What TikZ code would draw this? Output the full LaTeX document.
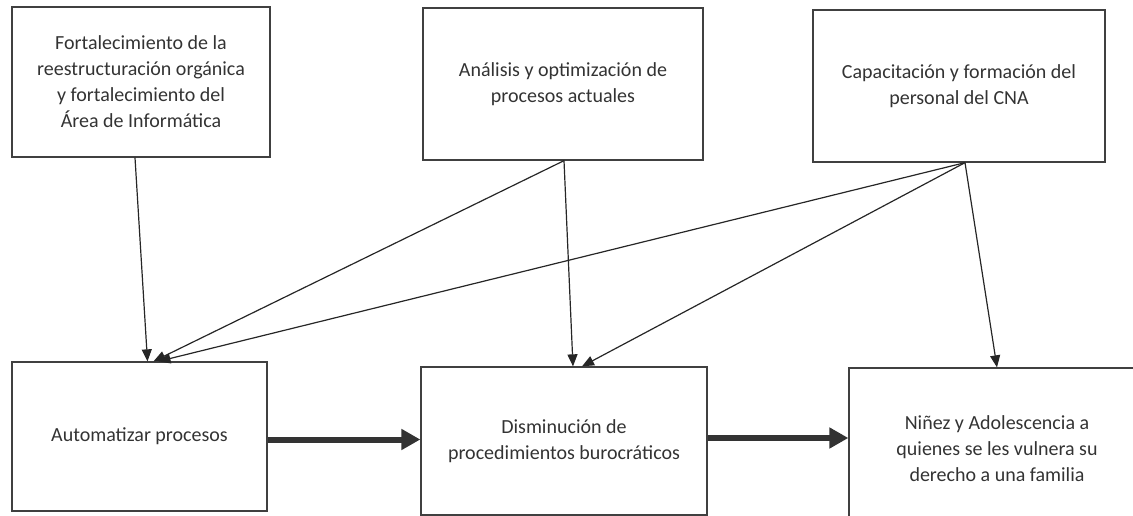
\documentclass[tikz,border=0pt]{standalone}
\usepackage{fontspec}
\setmainfont{Carlito}
\usetikzlibrary{arrows.meta}

\begin{document}
\begin{tikzpicture}[x=1pt, y=1pt
    , every node/.style={font=\fontsize{20}{26}\selectfont, text=black!80}
    , box/.style={draw=black!75, line width=1.3pt, align=center, inner sep=0pt}
    , thinarr/.style={draw=black!85, line width=1.2pt, -{Triangle[length=12pt, width=10pt]}}
    , thickarr/.style={draw=black!80, line width=6pt, -{Triangle[length=19pt, width=20pt]}}
    ]

    \useasboundingbox (0,0) rectangle (1133,-516);

    % Upper row
    \node[box, minimum width=258, minimum height=150] (fort) at (141,-82)
        {Fortalecimiento de la\\reestructuración orgánica\\y fortalecimiento del\\Área de Informática};
    \node[box, minimum width=280, minimum height=152] (anal) at (563,-84)
        {Análisis y optimización de\\procesos actuales};
    \node[box, minimum width=292, minimum height=152] (capa) at (959,-86)
        {Capacitación y formación del\\personal del CNA};

    % Lower row
    \node[box, minimum width=255, minimum height=149] (auto) at (139.5,-436.5)
        {Automatizar procesos};
    \node[box, minimum width=286, minimum height=148] (dism) at (564,-441)
        {Disminución de\\procedimientos burocráticos};
    \node[box, minimum width=296, minimum height=162] (nine) at (997,-449)
        {Niñez y Adolescencia a\\quienes se les vulnera su\\derecho a una familia};

    %% Thin arrows
    \draw[thinarr] ([xshift=-6]fort.south) -- ([xshift=8]auto.north);
    \draw[thinarr] ([xshift=1]anal.south) -- ([xshift=14]auto.north);
    \draw[thinarr] ([xshift=1]anal.south) -- ([xshift=9]dism.north);
    \draw[thinarr] ([xshift=6]capa.south) -- ([xshift=19]auto.north);
    \draw[thinarr] ([xshift=6]capa.south) -- ([xshift=18]dism.north);
    \draw[thinarr] ([xshift=6]capa.south) -- (nine.north);

    %% Thick arrows
    \draw[thickarr] ([yshift=-3]auto.east) -- ([yshift=-3]auto.east -| dism.west);
    \draw[thickarr] ([yshift=3]dism.east) -- ([yshift=3]dism.east -| nine.west);

\end{tikzpicture}
\end{document}
